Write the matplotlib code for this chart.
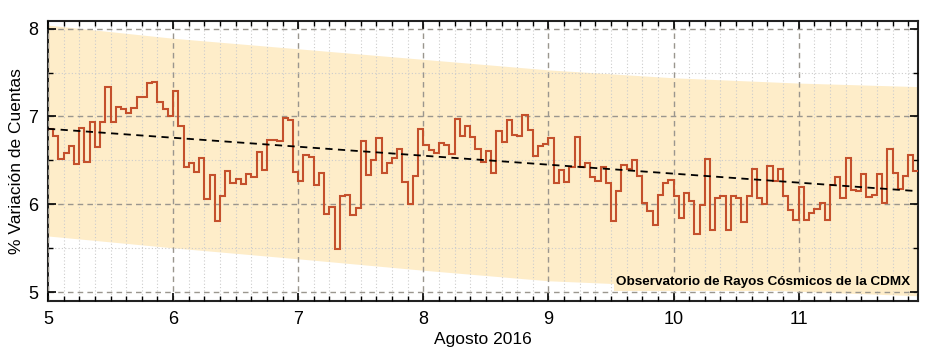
import numpy as np
import matplotlib
matplotlib.use("Agg")
import matplotlib.pyplot as plt
from matplotlib.ticker import MultipleLocator

plt.rcParams['font.family'] = ['Liberation Sans', 'DejaVu Sans']

# hourly values starting on 5 Aug 2016 00:00
start_day = 5.0
hours_per_day = 24
values = [
    6.86, 6.78, 6.52, 6.58, 6.66, 6.46, 6.87, 6.48, 6.94, 6.65, 6.94, 7.33,
    6.94, 7.11, 7.09, 7.04, 7.10, 7.22, 7.22, 7.38, 7.39, 7.16, 7.08, 7.00,
    7.29, 6.89, 6.42, 6.475, 6.37, 6.53, 6.065, 6.335, 5.81, 6.09, 6.38, 6.24,
    6.285, 6.235, 6.35, 6.31, 6.60, 6.39, 6.73, 6.73, 6.72, 6.98, 6.96, 6.37,
    6.27, 6.56, 6.54, 6.22, 6.36, 5.89, 5.97, 5.49, 6.09, 6.105, 5.88, 5.955,
    6.72, 6.33, 6.505, 6.75, 6.355, 6.475, 6.53, 6.63, 6.25, 6.00, 6.32, 6.855,
    6.67, 6.62, 6.58, 6.70, 6.68, 6.57, 6.97, 6.78, 6.89, 6.77, 6.63, 6.48,
    6.61, 6.36, 6.84, 6.715, 6.96, 6.79, 6.78, 7.02, 6.85, 6.55, 6.66, 6.69,
    6.75, 6.24, 6.39, 6.25, 6.43, 6.77, 6.43, 6.475, 6.31, 6.27, 6.42, 6.24,
    5.81, 6.15, 6.45, 6.40, 6.51, 6.32, 6.02, 5.92, 5.76, 6.11, 6.24, 6.28,
    6.10, 5.84, 6.13, 6.04, 5.66, 5.99, 6.52, 5.71, 6.07, 6.10, 5.71, 6.09,
    6.07, 5.80, 6.10, 6.40, 6.07, 6.00, 6.44, 6.27, 6.40, 6.09, 5.94, 5.82,
    6.20, 5.82, 5.90, 5.95, 6.02, 5.82, 6.22, 6.31, 6.07, 6.53, 6.16, 6.15,
    6.34, 6.08, 6.11, 6.34, 6.01, 6.63, 6.36, 6.17, 6.32, 6.56, 6.38,
]

trend_days = [5.0, 11.95]
trend_values = [6.86, 6.15]

band_days = [5, 6, 7, 8, 9, 10, 11, 11.95]
band_upper = [8.04, 7.89, 7.77, 7.65, 7.53, 7.44, 7.38, 7.34]
band_lower = [5.64, 5.505, 5.38, 5.25, 5.13, 5.07, 5.01, 4.96]

x_ticks = [5, 6, 7, 8, 9, 10, 11]
y_ticks = [5, 6, 7, 8]

fig = plt.figure(figsize=(9.3, 3.56), dpi=100)
ax = fig.add_axes([0.0516, 0.1545, 0.935, 0.7874])

band_color = '#FEEDC9'
ax.fill_between(band_days, band_lower, band_upper, color=band_color,
                linewidth=0, zorder=0.5)

edges = start_day + np.arange(len(values) + 1) / hours_per_day
ax.stairs(values, edges, baseline=None, color='#C4502C', linewidth=1.5, zorder=3)

ax.plot(trend_days, trend_values, color='black', linestyle=(0, (4, 3)),
        linewidth=1.3, zorder=4)

ax.set_xlim(5, 11.95)
ax.set_ylim(4.90, 8.09)
ax.set_xticks(x_ticks)
ax.set_yticks(y_ticks)
ax.xaxis.set_minor_locator(MultipleLocator(0.125))
ax.yaxis.set_minor_locator(MultipleLocator(0.5))

ax.set_axisbelow(False)
ax.grid(which='major', color='#9A968E', linestyle=(0, (4, 3)), linewidth=1.0)
ax.grid(which='minor', color='#CCCCCC', linestyle=(0, (1, 2)), linewidth=0.8)
for gl in ax.get_xgridlines() + ax.get_ygridlines():
    gl.set_zorder(1)

ax.tick_params(which='both', direction='in', top=True, right=True,
               labelsize=13, colors='black')
ax.tick_params(which='major', length=6, width=1.2)
ax.tick_params(which='minor', length=3.5, width=1.0)
ax.tick_params(axis='x', pad=7)
ax.tick_params(axis='y', pad=7)
for sp in ax.spines.values():
    sp.set_linewidth(1.5)
    sp.set_color('#222222')

ax.set_xlabel('Agosto 2016', fontsize=12.5, labelpad=3)
ax.set_ylabel('% Variación de Cuentas', fontsize=12.5, labelpad=3)

ax.text(0.992, 0.045, 'Observatorio de Rayos Cósmicos de la CDMX',
        transform=ax.transAxes, ha='right', va='bottom', fontsize=9.7,
        fontweight='bold', color='black', zorder=5,
        bbox=dict(facecolor=band_color, edgecolor='none', pad=2))

fig.savefig('out.png', dpi=100)
